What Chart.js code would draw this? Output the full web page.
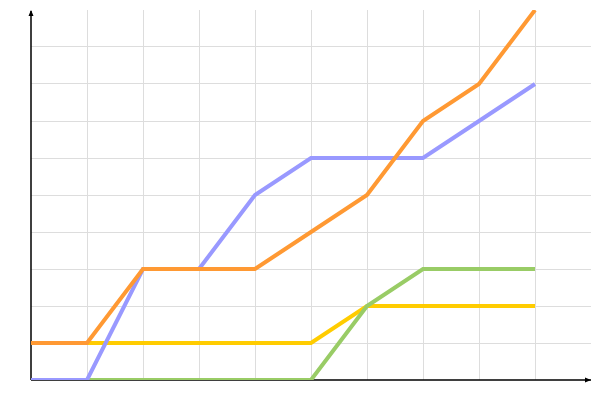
<!DOCTYPE html>
<html>
<head>
<meta charset="utf-8">
<script src="https://cdn.jsdelivr.net/npm/chart.js@4"></script>
<style>
html,body{margin:0;padding:0;background:#fff;}
#wrap{width:600px;height:400px;}
</style>
</head>
<body>
<div id="wrap"><canvas id="c" width="600" height="400"></canvas></div>
<script>
const xValues = [0,1,2,3,4,5,6,7,8,9];
const orangeSeries = [1,1,3,3,3,4,5,7,8,10];
const blueSeries = [0,0,3,3,5,6,6,6,7,8];
const greenSeries = [0,0,0,0,0,0,2,3,3,3];
const yellowSeries = [1,1,1,1,1,1,2,2,2,2];

function pts(arr){ return arr.map((v,i)=>({x:xValues[i], y:v})); }

const axesPlugin = {
  id: 'axesArrows',
  afterDraw(chart){
    const ctx = chart.ctx, a = chart.chartArea;
    ctx.save();
    ctx.strokeStyle = '#000';
    ctx.fillStyle = '#000';
    ctx.lineWidth = 1.5;
    ctx.beginPath();
    ctx.moveTo(a.left, a.bottom);
    ctx.lineTo(a.left, a.top + 1);
    ctx.moveTo(a.left, a.bottom);
    ctx.lineTo(a.right, a.bottom);
    ctx.stroke();
    // arrow heads
    ctx.beginPath();
    ctx.moveTo(a.left, a.top);
    ctx.lineTo(a.left - 2.5, a.top + 6);
    ctx.lineTo(a.left + 2.5, a.top + 6);
    ctx.closePath();
    ctx.fill();
    ctx.beginPath();
    ctx.moveTo(a.right, a.bottom);
    ctx.lineTo(a.right - 6, a.bottom - 2.5);
    ctx.lineTo(a.right - 6, a.bottom + 2.5);
    ctx.closePath();
    ctx.fill();
    ctx.restore();
  }
};
// draw series over axes? axes drawn beneath datasets
axesPlugin.beforeDatasetsDraw = axesPlugin.afterDraw;
delete axesPlugin.afterDraw;

function gridColor(c){
  const n = c.chart.scales[c.scale.id].ticks.length;
  if (c.index === 0 || c.index === n - 1) return 'rgba(0,0,0,0)';
  return '#dddddd';
}

new Chart(document.getElementById('c'), {
  type: 'line',
  data: {
    datasets: [
      {data: pts(orangeSeries), borderColor: '#ff9933', backgroundColor: '#ff9933'},
      {data: pts(blueSeries), borderColor: '#9999ff', backgroundColor: '#9999ff'},
      {data: pts(greenSeries), borderColor: '#99cc66', backgroundColor: '#99cc66'},
      {data: pts(yellowSeries), borderColor: '#ffcc00', backgroundColor: '#ffcc00'}
    ]
  },
  options: {
    responsive: false,
    animation: false,
    devicePixelRatio: 1,
    layout: {padding: {left: 31, top: 10, right: 9, bottom: 20}},
    elements: {
      point: {radius: 0, hoverRadius: 0},
      line: {borderWidth: 4, tension: 0, fill: false}
    },
    plugins: {legend: {display: false}, tooltip: {enabled: false}},
    scales: {
      x: {
        type: 'linear', min: 0, max: 10,
        ticks: {display: false, stepSize: 1},
        border: {display: false},
        grid: {color: gridColor, lineWidth: 1, drawTicks: false}
      },
      y: {
        type: 'linear', min: 0, max: 10,
        ticks: {display: false, stepSize: 1},
        border: {display: false},
        grid: {color: gridColor, lineWidth: 1, drawTicks: false}
      }
    }
  },
  plugins: [axesPlugin]
});
</script>
</body>
</html>
